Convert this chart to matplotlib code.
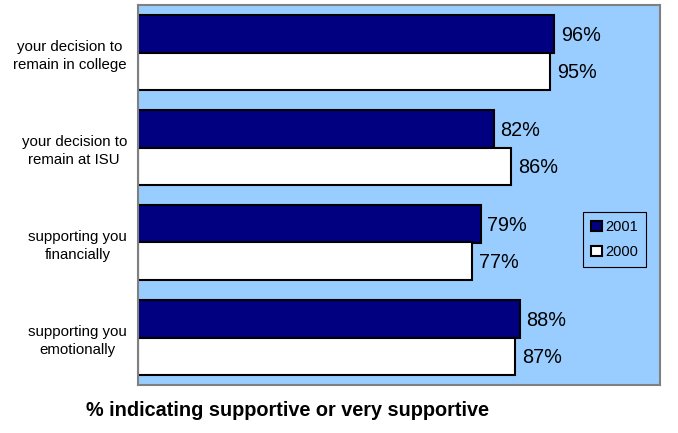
import matplotlib
matplotlib.use("Agg")
import matplotlib.pyplot as plt
import numpy as np

categories = ["your decision to\nremain in college", "your decision to\nremain at ISU",
              "supporting you\nfinancially", "supporting you\nemotionally"]
values_2001 = [96, 82, 79, 88]
values_2000 = [95, 86, 77, 87]
series_labels = ["2001", "2000"]
xlabel = "% indicating supportive or very supportive"

plt.rcParams['font.family'] = ['Liberation Sans', 'DejaVu Sans']

fig = plt.figure(figsize=(6.78, 4.33), dpi=100)
W, H = 678, 433
left, right, top, bottom = 138, 660, 5, 385
ax = fig.add_axes([left / W, 1 - bottom / H, (right - left) / W, (bottom - top) / H])
ax.set_facecolor("#99CCFF")

y = np.arange(len(categories))
h = 0.395
b1 = ax.barh(y - h / 2, values_2001, height=h, color="#000080", edgecolor="black", linewidth=1.5, label=series_labels[0])
b2 = ax.barh(y + h / 2, values_2000, height=h, color="white", edgecolor="black", linewidth=1.5, label=series_labels[1])

for bars, vals in ((b1, values_2001), (b2, values_2000)):
    for rect, v in zip(bars, vals):
        ax.annotate(f"{v}%", (v, rect.get_y() + rect.get_height() / 2), xytext=(5, -1),
                    textcoords="offset points", va="center", ha="left", fontsize=14.3)

ax.set_xlim(0, 120.4)
ax.set_ylim(len(categories) - 0.5, -0.5)
ax.set_yticks(y)
ax.set_yticklabels(categories, fontsize=10.8, multialignment="center", linespacing=1.4)
ax.tick_params(axis="y", length=0, pad=8)
ax.set_xticks([])
for s in ax.spines.values():
    s.set_color("#808080")
    s.set_linewidth(1.5)

leg = ax.legend(loc="upper left", bbox_to_anchor=((583 - left) / (right - left), 1 - (212 - top) / (bottom - top)),
                fontsize=10.5, frameon=True, fancybox=False, framealpha=1, handlelength=0.75, handleheight=0.75,
                handletextpad=0.2, borderpad=0.55, labelspacing=0.75, borderaxespad=0)
leg.get_frame().set_facecolor("#99CCFF")
leg.get_frame().set_edgecolor("black")
leg.get_frame().set_linewidth(0.8)

fig.text(287 / W, 1 - 410 / H, xlabel, ha="center", va="center", fontsize=14.3, fontweight="bold")

fig.savefig("out.png", dpi=100, facecolor="white")
